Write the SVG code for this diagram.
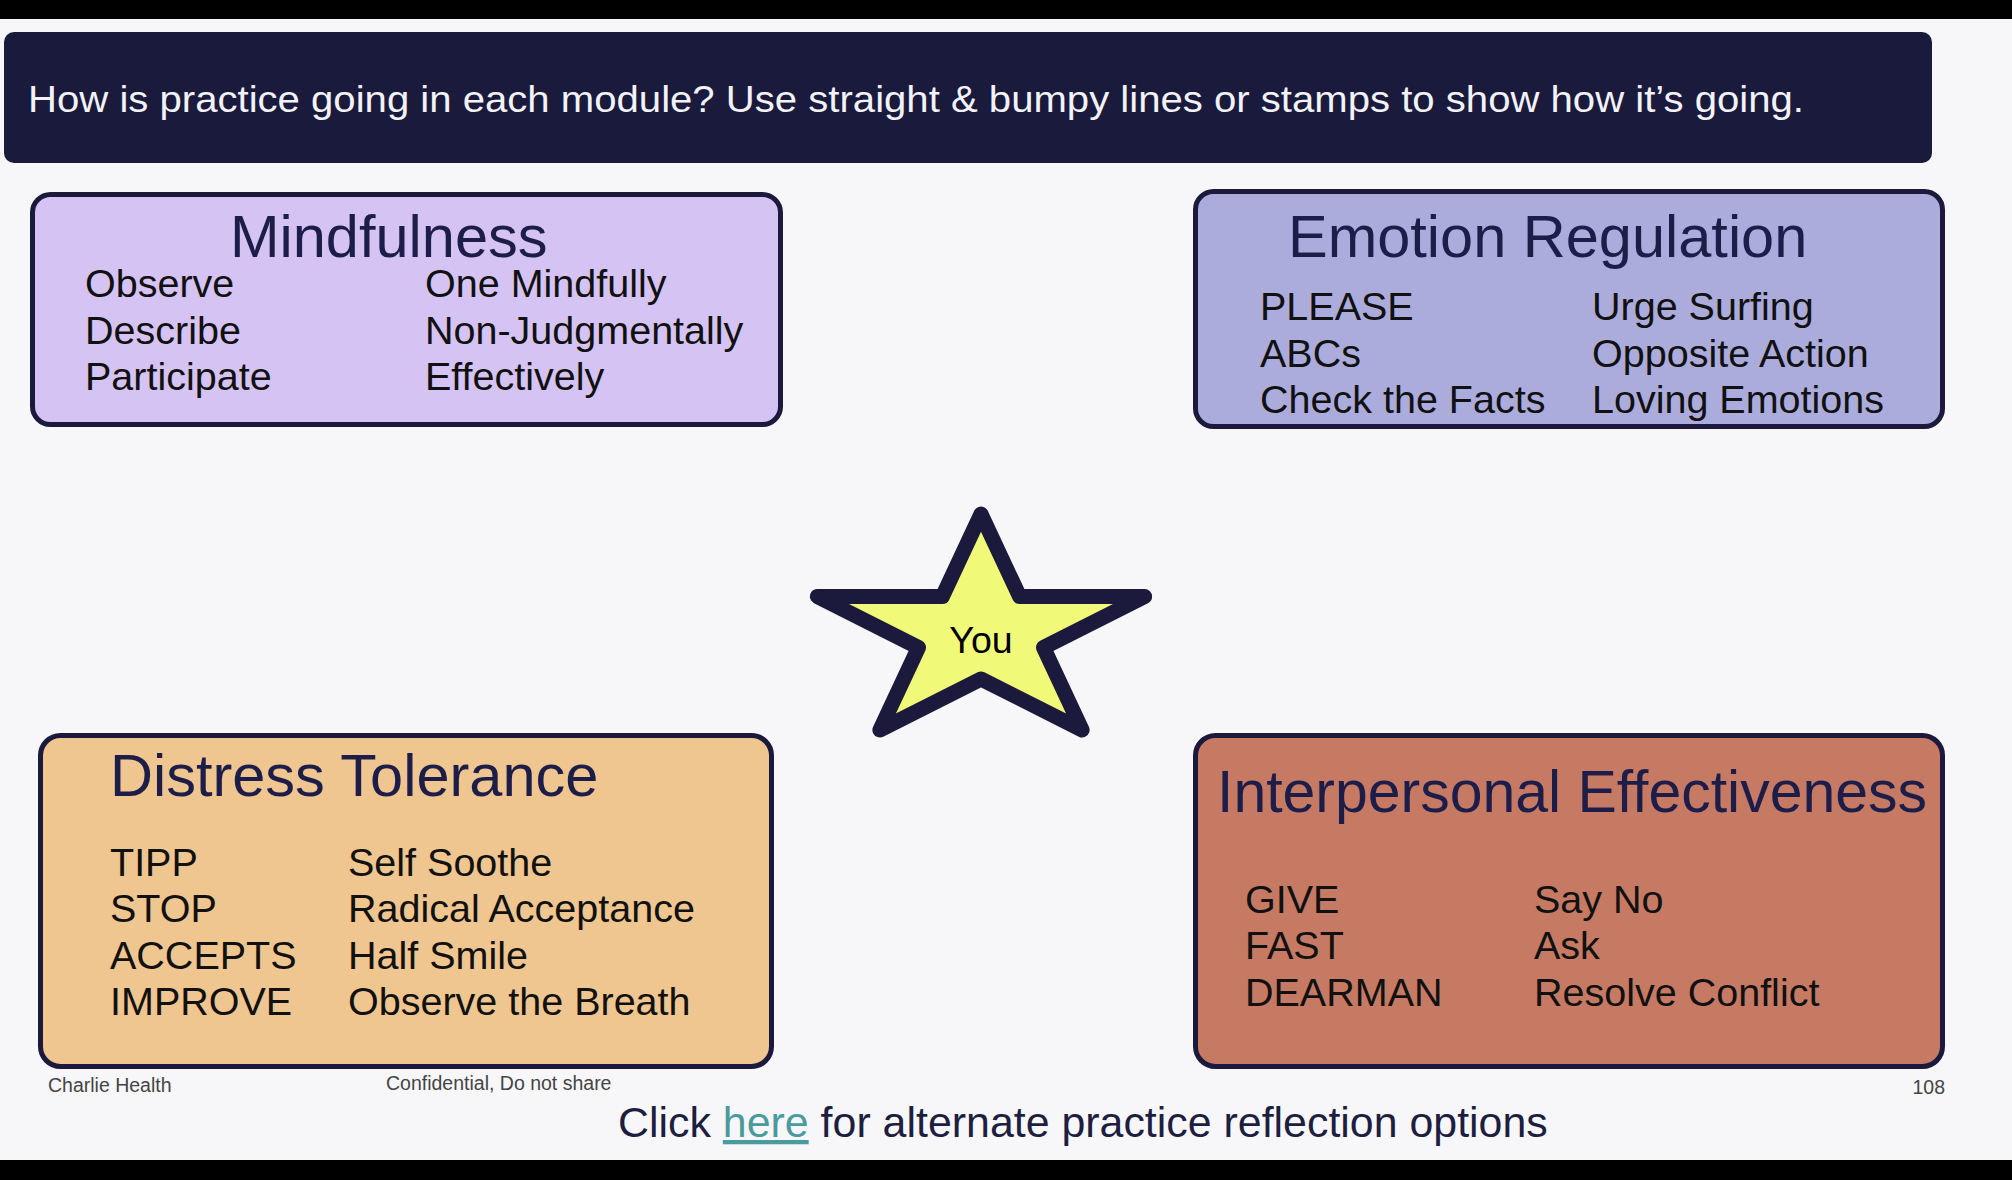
<svg xmlns="http://www.w3.org/2000/svg" width="2012" height="1180" viewBox="0 0 2012 1180">
<style>
text { font-family: "Liberation Sans", Arial, Helvetica, sans-serif; }
.box { stroke: #1b1a3c; stroke-width: 5; }
.title { font-size: 59.5px; fill: #1d1d4a; }
.item { font-size: 39.5px; fill: #111111; }
.foot { font-size: 19.5px; fill: #444444; }
</style>
<rect x="0" y="0" width="2012" height="1180" fill="#f7f7fa"/>
<rect x="0" y="0" width="2012" height="19" fill="#000000"/>
<rect x="0" y="1160" width="2012" height="20" fill="#000000"/>

<g id="header">
  <rect x="4" y="32" width="1928" height="131" rx="10" fill="#1a1a3d"/>
  <text x="28" y="112" font-size="37" fill="#f2f2f7" textLength="1776" lengthAdjust="spacingAndGlyphs">How is practice going in each module? Use straight &amp; bumpy lines or stamps to show how it’s going.</text>
</g>

<g id="mindfulness">
  <rect class="box" x="32.5" y="194.5" width="748" height="230" rx="18" fill="#d5c3f3"/>
  <text class="title" x="230" y="257">Mindfulness</text>
  <text class="item" x="85" y="297">Observe</text>
  <text class="item" x="85" y="344">Describe</text>
  <text class="item" x="85" y="390">Participate</text>
  <text class="item" x="425" y="297">One Mindfully</text>
  <text class="item" x="425" y="344">Non-Judgmentally</text>
  <text class="item" x="425" y="390">Effectively</text>
</g>

<g id="emotion-regulation">
  <rect class="box" x="1195.5" y="191.5" width="747" height="235" rx="18" fill="#acacdc"/>
  <text class="title" x="1288" y="257">Emotion Regulation</text>
  <text class="item" x="1260" y="320">PLEASE</text>
  <text class="item" x="1260" y="367">ABCs</text>
  <text class="item" x="1260" y="413">Check the Facts</text>
  <text class="item" x="1592" y="320">Urge Surfing</text>
  <text class="item" x="1592" y="367">Opposite Action</text>
  <text class="item" x="1592" y="413">Loving Emotions</text>
</g>

<g id="you">
  <polygon points="981,514 1019.6,596.5 1144.6,596.5 1043.5,647.5 1082.1,730 981,679 879.9,730 918.5,647.5 817.4,596.5 942.4,596.5" fill="#f0fa78" stroke="#1b1a3c" stroke-width="15" stroke-linejoin="round"/>
  <text x="981" y="653" font-size="37.5" fill="#000000" text-anchor="middle">You</text>
</g>

<g id="distress-tolerance">
  <rect class="box" x="40.5" y="735.5" width="731" height="331" rx="20" fill="#efc590"/>
  <text class="title" x="110" y="796">Distress Tolerance</text>
  <text class="item" x="110" y="876">TIPP</text>
  <text class="item" x="110" y="922">STOP</text>
  <text class="item" x="110" y="969">ACCEPTS</text>
  <text class="item" x="110" y="1015">IMPROVE</text>
  <text class="item" x="348" y="876">Self Soothe</text>
  <text class="item" x="348" y="922">Radical Acceptance</text>
  <text class="item" x="348" y="969">Half Smile</text>
  <text class="item" x="348" y="1015">Observe the Breath</text>
</g>

<g id="interpersonal-effectiveness">
  <rect class="box" x="1195.5" y="735.5" width="747" height="331" rx="20" fill="#c67a64"/>
  <text class="title" x="1217" y="812" textLength="710" lengthAdjust="spacingAndGlyphs">Interpersonal Effectiveness</text>
  <text class="item" x="1245" y="913">GIVE</text>
  <text class="item" x="1245" y="959">FAST</text>
  <text class="item" x="1245" y="1006">DEARMAN</text>
  <text class="item" x="1534" y="913">Say No</text>
  <text class="item" x="1534" y="959">Ask</text>
  <text class="item" x="1534" y="1006">Resolve Conflict</text>
</g>

<g id="connectors"></g>

<g id="footer">
  <text class="foot" x="48" y="1092">Charlie Health</text>
  <text class="foot" x="386" y="1090">Confidential, Do not share</text>
  <text class="foot" x="1945" y="1094" text-anchor="end">108</text>
  <text x="618" y="1137" font-size="42.9" fill="#1e1e40">Click <tspan fill="#4a9a9e" text-decoration="underline">here</tspan> for alternate practice reflection options</text>
</g>
</svg>
